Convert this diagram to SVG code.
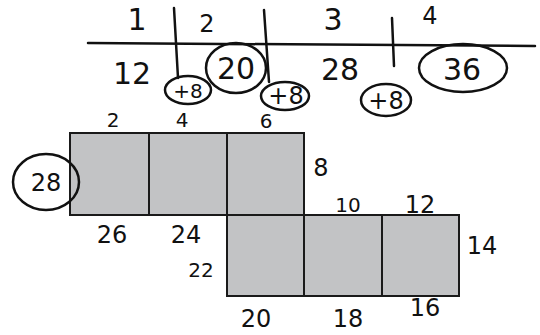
<svg xmlns="http://www.w3.org/2000/svg" width="540" height="335" viewBox="0 0 540 335">
<style>
.sq{fill:#c2c3c5;stroke:#1a1a1a;stroke-width:2}
.ln{stroke:#111;stroke-width:2.5;fill:none;stroke-linecap:round}
.ring{fill:none;stroke:#111;stroke-width:2.5}
.t{font-family:"DejaVu Sans",sans-serif;fill:#111;text-anchor:middle}
.big{font-size:30px}
.mid{font-size:24px}
.sm{font-size:20px}
</style>
<rect width="540" height="335" fill="#fff"/>
<g id="table">
<path class="ln" d="M88 43 L535 46"/>
<path class="ln" d="M174 8 L178 78"/>
<path class="ln" d="M264 10 L269 82"/>
<path class="ln" d="M392 18 L394 66"/>
<text class="t big" x="137" y="30">1</text>
<text class="t mid" x="207" y="32">2</text>
<text class="t big" x="333" y="30">3</text>
<text class="t mid" x="430" y="24">4</text>
<text class="t big" x="132" y="84">12</text>
<ellipse class="ring" cx="188" cy="90" rx="23" ry="14"/>
<text class="t sm" x="188" y="98">+8</text>
<ellipse class="ring" cx="236" cy="68" rx="30" ry="25"/>
<text class="t big" x="236" y="79">20</text>
<ellipse class="ring" cx="285" cy="96" rx="24" ry="14"/>
<text class="t mid" x="286" y="104">+8</text>
<text class="t big" x="340" y="80">28</text>
<ellipse class="ring" cx="386" cy="100" rx="25" ry="16"/>
<text class="t mid" x="386" y="109">+8</text>
<ellipse class="ring" cx="463" cy="68" rx="44" ry="24"/>
<text class="t big" x="462" y="80">36</text>
</g>
<g id="squares">
<rect class="sq" x="70" y="133" width="79" height="82"/>
<rect class="sq" x="149" y="133" width="78" height="82"/>
<rect class="sq" x="227" y="133" width="77" height="82"/>
<rect class="sq" x="227" y="215" width="77" height="81"/>
<rect class="sq" x="304" y="215" width="78" height="81"/>
<rect class="sq" x="382" y="215" width="77" height="81"/>
</g>
<g id="labels">
<text class="t sm" x="113" y="127">2</text>
<text class="t sm" x="182" y="127">4</text>
<text class="t sm" x="266" y="128">6</text>
<text class="t mid" x="321" y="176">8</text>
<ellipse class="ring" cx="46" cy="182" rx="33" ry="28"/>
<text class="t mid" x="46" y="191">28</text>
<text class="t mid" x="112" y="243">26</text>
<text class="t mid" x="186" y="243">24</text>
<text class="t sm" x="348" y="212">10</text>
<text class="t mid" x="420" y="213">12</text>
<text class="t mid" x="482" y="254">14</text>
<text class="t sm" x="201" y="277">22</text>
<text class="t mid" x="256" y="327">20</text>
<text class="t mid" x="348" y="327">18</text>
<text class="t mid" x="425" y="316">16</text>
</g>
</svg>
